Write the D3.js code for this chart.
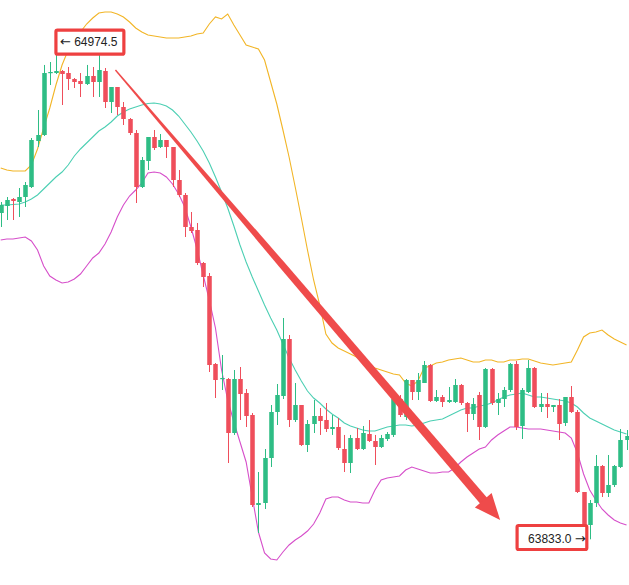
<!DOCTYPE html>
<html>
<head>
<meta charset="utf-8">
<script src="https://cdn.jsdelivr.net/npm/d3@7"></script>
<style>
  body { margin: 0; background: #fff; }
</style>
</head>
<body>
<div id="chart"></div>
<script>
/**
 * Data
 */
const opens = [64583.5, 64599.6, 64615.7, 64608.8, 64620.3, 64643.3, 64749.1, 64762.9, 64905.5, 64905.5,
  64910.1, 64905.5, 64891.7, 64887.1, 64880.2, 64898.6, 64884.8, 64910.1, 64838.8, 64873.3,
  64827.3, 64799.7, 64767.5, 64643.3, 64703.1, 64758.3, 64735.3, 64751.4, 64735.3, 64659.4,
  64624.9, 64551.3, 64544.4, 64468.5, 64438.6, 64236.2, 64201.7, 64201.7, 64077.5, 64201.7,
  64169.5, 64118.9, 63911.9, 63916.5, 64020.0, 64125.8, 64162.6, 64293.7, 64107.4, 64141.9,
  64049.9, 64098.2, 64116.6, 64107.4, 64086.7, 64091.3, 64040.7, 64008.5, 64066.0, 64040.7,
  64075.2, 64059.1, 64045.3, 64063.7, 64073.0, 64155.7, 64114.3, 64199.4, 64171.8, 64192.5,
  64233.9, 64151.1, 64160.3, 64148.8, 64148.8, 64187.9, 64146.5, 64121.2, 64164.9, 64091.3,
  64224.7, 64146.5, 64155.7, 64176.4, 64236.2, 64093.6, 64171.8, 64227.0, 64137.3, 64144.2,
  64137.3, 64141.9, 64100.5, 64160.3, 64125.8, 63941.8, 63865.9, 63916.5, 64001.6, 63939.5,
  63957.9, 63999.3, 64061.4];

const closes = [64601.9, 64613.4, 64611.1, 64620.3, 64647.9, 64751.4, 64762.9, 64905.5, 64907.8, 64910.1,
  64903.2, 64891.7, 64884.8, 64880.2, 64898.6, 64884.8, 64912.4, 64838.8, 64873.3, 64827.3,
  64799.7, 64767.5, 64643.3, 64705.4, 64758.3, 64733.0, 64751.4, 64735.3, 64659.4, 64624.9,
  64551.3, 64542.1, 64468.5, 64436.3, 64233.9, 64199.4, 64204.0, 64077.5, 64201.7, 64167.2,
  64116.6, 63911.9, 63916.5, 64020.0, 64125.8, 64164.9, 64293.7, 64107.4, 64141.9, 64049.9,
  64098.2, 64116.6, 64105.1, 64086.7, 64091.3, 64043.0, 64008.5, 64066.0, 64040.7, 64077.5,
  64059.1, 64045.3, 64066.0, 64075.2, 64155.7, 64118.9, 64199.4, 64171.8, 64199.4, 64233.9,
  64151.1, 64160.3, 64148.8, 64153.4, 64187.9, 64146.5, 64121.2, 64144.2, 64091.3, 64224.7,
  64146.5, 64155.7, 64176.4, 64236.2, 64091.3, 64176.4, 64227.0, 64137.3, 64144.2, 64137.3,
  64141.9, 64098.2, 64160.3, 64125.8, 63941.8, 63865.9, 63916.5, 64001.6, 63939.5, 63957.9,
  64001.6, 64061.4, 64070.6];

const highs = [64608.8, 64620.3, 64618.0, 64641.0, 64654.8, 64756.0, 64820.4, 64924.0, 64930.8, 64974.5,
  64912.4, 64919.3, 64894.0, 64905.5, 64924.0, 64919.3, 64963.0, 64917.0, 64873.3, 64873.3,
  64838.8, 64802.0, 64774.4, 64712.3, 64758.3, 64774.4, 64765.2, 64751.4, 64735.3, 64682.4,
  64629.5, 64585.8, 64560.5, 64470.8, 64445.5, 64238.5, 64256.9, 64204.0, 64222.4, 64229.3,
  64178.7, 64123.5, 63987.8, 64040.7, 64141.9, 64190.2, 64342.0, 64302.9, 64192.5, 64141.9,
  64107.4, 64153.4, 64135.0, 64146.5, 64118.9, 64112.0, 64073.0, 64073.0, 64089.0, 64093.6,
  64107.4, 64073.0, 64073.0, 64079.8, 64162.6, 64164.9, 64201.7, 64199.4, 64215.5, 64243.1,
  64236.2, 64176.4, 64164.9, 64183.3, 64201.7, 64190.2, 64148.8, 64158.0, 64171.8, 64227.0,
  64227.0, 64169.5, 64183.3, 64238.5, 64243.1, 64181.0, 64245.4, 64229.3, 64169.5, 64169.5,
  64141.9, 64155.7, 64160.3, 64185.6, 64130.4, 63941.8, 63923.4, 64026.9, 64003.9, 64026.9,
  64003.9, 64086.7, 64084.4];

const lows = [64551.3, 64567.4, 64567.4, 64574.3, 64597.3, 64641.0, 64735.3, 64760.6, 64877.9, 64903.2,
  64831.9, 64866.4, 64871.0, 64850.3, 64877.9, 64850.3, 64850.3, 64825.0, 64813.5, 64808.9,
  64785.9, 64762.9, 64606.5, 64641.0, 64682.4, 64728.4, 64733.0, 64710.0, 64643.3, 64620.3,
  64528.3, 64537.5, 64463.9, 64413.3, 64217.8, 64158.0, 64176.4, 64008.5, 64073.0, 64107.4,
  64091.3, 63907.3, 63847.5, 63902.7, 63999.3, 64095.9, 64155.7, 64091.3, 64102.8, 64047.6,
  64033.8, 64077.5, 64073.0, 64079.8, 64073.0, 64038.4, 63987.8, 63985.5, 64038.4, 64038.4,
  64056.8, 64003.9, 64043.0, 64059.1, 64068.3, 64114.3, 64107.4, 64153.4, 64153.4, 64192.5,
  64148.8, 64148.8, 64137.3, 64146.5, 64146.5, 64141.9, 64079.8, 64107.4, 64061.4, 64089.0,
  64141.9, 64118.9, 64137.3, 64171.8, 64084.4, 64063.7, 64169.5, 64135.0, 64125.8, 64112.0,
  64125.8, 64061.4, 64093.6, 64123.5, 63939.5, 63843.0, 63833.0, 63907.3, 63930.3, 63930.3,
  63953.3, 63997.0, 64038.4];

// Bollinger bands as shown on the chart
const bollUpper = [64687.0, 64682.4, 64680.1, 64680.1, 64680.1, 64693.9, 64730.7, 64779.0, 64825.0, 64877.9,
  64923.9, 64958.4, 64981.4, 64999.8, 65018.2, 65032.0, 65043.5, 65045.8, 65045.8, 65041.2,
  65034.3, 65022.8, 65009.0, 64999.8, 64992.9, 64990.6, 64988.3, 64986.0, 64986.0, 64986.0,
  64988.3, 64990.6, 64995.2, 64997.5, 65018.2, 65034.3, 65029.7, 65041.2, 65015.9, 64992.9,
  64969.9, 64965.3, 64960.7, 64935.4, 64884.8, 64834.2, 64774.4, 64712.3, 64643.3, 64572.0,
  64498.4, 64429.4, 64371.9, 64305.2, 64284.5, 64273.0, 64266.1, 64259.2, 64252.3, 64243.1,
  64233.9, 64227.0, 64222.4, 64217.8, 64213.2, 64210.9, 64192.5, 64185.6, 64197.1, 64227.0,
  64231.6, 64238.5, 64240.8, 64245.4, 64247.7, 64250.0, 64245.4, 64240.8, 64240.8, 64245.4,
  64245.4, 64240.8, 64240.8, 64245.4, 64245.4, 64247.7, 64247.7, 64243.1, 64238.5, 64236.2,
  64233.9, 64236.2, 64238.5, 64240.8, 64268.4, 64298.3, 64307.5, 64309.8, 64314.4, 64302.9,
  64293.7, 64286.8, 64279.9];

const bollMid = [64601.9, 64601.9, 64603.1, 64604.2, 64608.8, 64615.7, 64624.9, 64638.7, 64652.5, 64666.3,
  64677.8, 64693.9, 64714.6, 64730.7, 64744.5, 64758.3, 64772.1, 64781.3, 64792.8, 64806.6,
  64815.8, 64822.7, 64827.3, 64831.9, 64835.4, 64836.5, 64834.2, 64829.6, 64820.4, 64806.6,
  64788.2, 64769.8, 64749.1, 64726.1, 64698.5, 64666.3, 64631.8, 64595.0, 64553.6, 64509.9,
  64470.8, 64436.3, 64404.1, 64371.9, 64342.0, 64314.4, 64282.2, 64250.0, 64222.4, 64197.1,
  64174.1, 64158.0, 64146.5, 64132.7, 64121.2, 64112.0, 64100.5, 64093.6, 64089.0, 64084.4,
  64082.1, 64082.1, 64086.7, 64091.3, 64093.6, 64095.9, 64095.9, 64093.6, 64095.9, 64100.5,
  64105.1, 64107.4, 64109.7, 64116.6, 64123.5, 64130.4, 64135.0, 64135.0, 64139.6, 64141.9,
  64146.5, 64153.4, 64160.3, 64164.9, 64167.2, 64169.5, 64164.9, 64160.3, 64160.3, 64158.0,
  64155.7, 64153.4, 64151.1, 64146.5, 64137.3, 64123.5, 64112.0, 64105.1, 64098.2, 64091.3,
  64084.4, 64079.8, 64075.2];

const bollLower = [64521.4, 64523.7, 64523.7, 64526.0, 64528.3, 64519.1, 64498.4, 64461.6, 64438.6, 64429.4,
  64422.5, 64424.8, 64431.7, 64443.2, 64461.6, 64480.0, 64491.5, 64512.2, 64539.8, 64574.3,
  64601.9, 64622.6, 64636.4, 64652.5, 64675.5, 64677.8, 64675.5, 64666.3, 64650.2, 64627.2,
  64597.3, 64551.3, 64500.7, 64440.9, 64383.4, 64319.0, 64222.4, 64153.4, 64102.8, 64056.8,
  64010.8, 63930.3, 63849.8, 63801.5, 63787.7, 63785.4, 63803.8, 63819.9, 63831.4, 63840.6,
  63852.1, 63868.2, 63893.5, 63925.7, 63930.3, 63930.3, 63923.4, 63918.8, 63918.8, 63916.5,
  63916.5, 63946.4, 63969.4, 63974.0, 63976.3, 63978.6, 63992.4, 63999.3, 63994.7, 63990.1,
  63985.5, 63985.5, 63987.8, 63987.8, 63997.0, 64010.8, 64022.3, 64031.5, 64040.7, 64045.3,
  64061.4, 64072.9, 64082.1, 64091.3, 64091.3, 64089.0, 64086.7, 64086.7, 64086.7, 64084.4,
  64082.1, 64079.8, 64077.5, 64066.0, 64031.5, 63983.2, 63946.4, 63923.4, 63902.7, 63888.9,
  63877.4, 63870.5, 63865.9];

// hand drawn arrow: [candle index, price]
const arrowFrom = [18.7, 64912.4];
const arrowTo = [81.4, 63877.4];

/**
 * Basic Settings
 */
const canvasWidth = 629;
const canvasHeight = 585;
const upColor = "#2ebd85";
const downColor = "#ef4e5b";

const svg = d3.select("#chart")
  .append("svg")
  .attr("width", canvasWidth)
  .attr("height", canvasHeight)
  .style("background", "#fff");

const idx = d3.range(opens.length);

const x = d3.scaleBand()
  .domain(idx)
  .range([-1.56, 628.8])
  .paddingInner(0.26);
const xc = i => x(i) + x.bandwidth() / 2;
const xLin = d3.scaleLinear()
  .domain([0, idx.length - 1])
  .range([xc(0), xc(idx.length - 1)]);

const y = d3.scaleLinear()
  .domain([63727.9, 65073.4])
  .range([canvasHeight, 0]);

/**
 * Bollinger lines
 */
const line = d3.line()
  .x((d, i) => xc(i))
  .y(d => y(d));

[[bollUpper, "#f2b526"], [bollMid, "#4ccfb3"], [bollLower, "#d64fca"]].forEach(function(b) {
  svg.append("path")
    .datum(b[0])
    .attr("d", line)
    .attr("fill", "none")
    .attr("stroke", b[1])
    .attr("stroke-width", 1.1);
});

/**
 * Candles
 */
const candle = svg.append("g")
  .selectAll("g")
  .data(idx)
  .join("g");

candle.append("line")
  .attr("x1", i => Math.round(xc(i)) + 0.5)
  .attr("x2", i => Math.round(xc(i)) + 0.5)
  .attr("y1", i => y(highs[i]))
  .attr("y2", i => y(lows[i]))
  .attr("stroke", i => closes[i] >= opens[i] ? upColor : downColor)
  .attr("stroke-width", 1);

candle.append("rect")
  .attr("x", i => Math.round(xc(i)) + 0.5 - x.bandwidth() / 2)
  .attr("width", x.bandwidth())
  .attr("y", i => y(Math.max(opens[i], closes[i])))
  .attr("height", i => Math.max(1.2, Math.abs(y(opens[i]) - y(closes[i]))))
  .attr("fill", i => closes[i] >= opens[i] ? upColor : downColor);

/**
 * Arrow annotation
 */
const ax0 = xLin(arrowFrom[0]), ay0 = y(arrowFrom[1]);
const ax1 = xLin(arrowTo[0]), ay1 = y(arrowTo[1]);
const len = Math.hypot(ax1 - ax0, ay1 - ay0);
const ux = (ax1 - ax0) / len, uy = (ay1 - ay0) / len;
const nx = -uy, ny = ux;
const headLen = 26, headHalf = 11;
const widths = [[0, 1.4], [0.45, 6.8], [1, 9]];
const shaftLen = len - headLen + 2;
const left = widths.map(w => [ax0 + ux * shaftLen * w[0] + nx * w[1] / 2, ay0 + uy * shaftLen * w[0] + ny * w[1] / 2]);
const right = widths.map(w => [ax0 + ux * shaftLen * w[0] - nx * w[1] / 2, ay0 + uy * shaftLen * w[0] - ny * w[1] / 2]).reverse();

svg.append("path")
  .attr("d", "M" + left.concat(right).map(p => p.join(",")).join("L") + "Z")
  .attr("fill", "#ef4b4b");

const bx = ax1 - ux * headLen, by = ay1 - uy * headLen;
svg.append("path")
  .attr("d", "M" + ax1 + "," + ay1
    + "L" + (bx + nx * headHalf) + "," + (by + ny * headHalf)
    + "L" + (bx - nx * headHalf) + "," + (by - ny * headHalf) + "Z")
  .attr("fill", "#ef4b4b");

/**
 * Highest / lowest labels with red boxes
 */
const hiIdx = d3.maxIndex(highs);
const loIdx = d3.minIndex(lows);

// pad = [left, right, top, bottom]
function addLabel(i, price, parts, anchor, dx, pad) {
  const g = svg.append("g");
  const t = g.append("text")
    .attr("x", xc(i) + dx)
    .attr("y", y(price) - 1)
    .attr("dy", "0.35em")
    .attr("text-anchor", anchor)
    .style("font-family", "'Liberation Sans', Arial, sans-serif")
    .style("font-size", "12px")
    .style("fill", "#222");
  parts.forEach(function(p) {
    t.append("tspan")
      .style("font-size", p.arrow ? "13px" : "12px")
      .style("font-family", p.arrow ? "'DejaVu Sans', sans-serif" : null)
      .text(p.s);
  });
  const bb = t.node().getBBox();
  g.insert("rect", "text")
    .attr("x", bb.x - pad[0])
    .attr("y", bb.y - pad[2])
    .attr("width", bb.width + pad[0] + pad[1])
    .attr("height", bb.height + pad[2] + pad[3])
    .attr("rx", 1.5)
    .attr("fill", "#fff")
    .attr("stroke", "#ee4040")
    .attr("stroke-width", 3.2);
}

addLabel(hiIdx, highs[hiIdx],
  [{ s: "\u2190", arrow: true }, { s: " " + highs[hiIdx].toFixed(1) }],
  "start", 4, [4, 6, 4, 5]);
addLabel(loIdx, lows[loIdx],
  [{ s: lows[loIdx].toFixed(1) + " " }, { s: "\u2192", arrow: true }],
  "end", -4, [11, 1, 5, 4]);
</script>
</body>
</html>
